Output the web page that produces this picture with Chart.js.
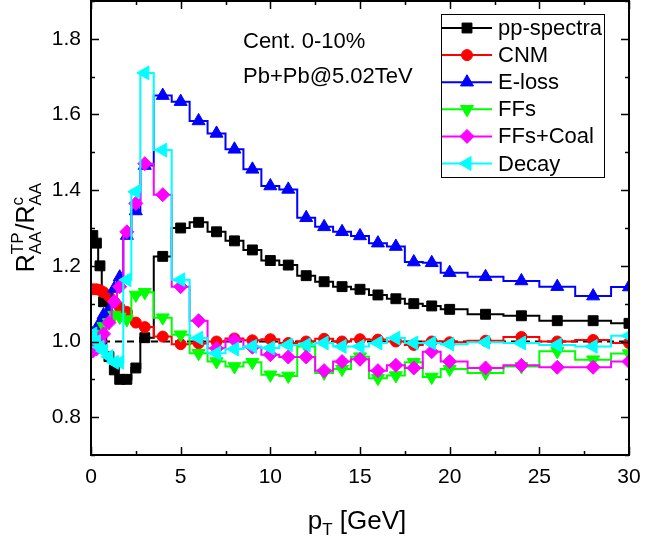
<!DOCTYPE html>
<html><head><meta charset="utf-8">
<script src="https://cdn.jsdelivr.net/npm/chart.js@4.4.1/dist/chart.umd.min.js"></script>
<style>html,body{margin:0;padding:0;background:#fff;} #wrap{width:667px;height:540px;position:relative;}</style>
</head><body><div id="wrap"><canvas id="c" width="667" height="540"></canvas></div>
<script>
// ---- data ----
const pT = [0.1,0.3,0.5,0.7,1.0,1.3,1.6,2.0,2.5,3,4,5,6,7,8,9,10,11,12,13,14,15,16,17,18,19,20,22,24,26,28,30];
const ppSpectra = [1.28,1.26,1.20,1.105,0.96,0.925,0.90,0.90,0.93,1.01,1.225,1.30,1.315,1.29,1.266,1.242,1.214,1.202,1.174,1.158,1.145,1.138,1.123,1.113,1.10,1.094,1.085,1.072,1.068,1.055,1.055,1.048];
const cnm = [1.138,1.138,1.136,1.13,1.12,1.105,1.09,1.078,1.05,1.038,1.013,0.993,0.995,1.0,1.008,1.003,1.006,0.996,1.0,1.007,1.0,1.006,1.005,1.0,0.991,1.0,0.998,1.002,1.012,1.0,1.004,0.996];
const eLoss = [1.02,1.03,1.05,1.07,1.08,1.14,1.17,1.28,1.345,1.465,1.65,1.634,1.583,1.55,1.508,1.455,1.411,1.402,1.327,1.303,1.29,1.279,1.26,1.251,1.21,1.208,1.182,1.171,1.16,1.145,1.12,1.144];
const ffs = [1.0,1.0,1.02,1.04,1.05,1.07,1.065,1.058,1.123,1.13,1.063,1.018,0.969,0.947,0.934,0.945,0.912,0.909,0.987,0.917,0.927,0.96,0.903,0.91,0.945,0.906,0.927,0.917,0.934,0.974,0.952,0.968];
const ffsCoal = [0.975,0.98,1.0,1.02,1.05,1.105,1.145,1.29,1.365,1.47,1.388,1.145,1.055,0.982,1.004,0.985,0.965,0.959,0.959,0.923,0.947,0.953,0.923,0.937,0.93,0.973,0.947,0.93,0.937,0.932,0.932,0.947];
const decay = [1.02,1.0,0.985,0.975,0.96,0.945,0.945,1.163,1.396,1.71,1.506,1.163,1.009,0.969,0.98,0.987,0.983,0.991,0.991,0.996,0.987,0.987,0.996,1.009,0.996,0.996,0.993,0.998,0.996,0.991,0.987,1.015];
const seriesLabels = ['pp-spectra','CNM','E-loss','FFs','FFs+Coal','Decay'];
const xTicks = [0,5,10,15,20,25,30];
const yTicks = [0.8,1.0,1.2,1.4,1.6,1.8];
const refLine = [{x:0,y:1},{x:30,y:1}];

const FONT = 'Liberation Sans, Arial, Helvetica, sans-serif';

function ds(label, vals, color, style, radius, rot, order){
  return {label, data: pT.map((x,i)=>({x, y: vals[i]})), borderColor: color, backgroundColor: color,
    pointBackgroundColor: color, pointBorderColor: color, pointBorderWidth: 1, pointStyle: style,
    pointRadius: radius, pointHoverRadius: radius, pointRotation: rot, borderWidth: 2,
    stepped: 'middle', order};
}
const datasets = [
  ds(seriesLabels[0], ppSpectra, '#000000', 'rect', 7, 0, 5),
  ds(seriesLabels[1], cnm, '#ff0000', 'circle', 5.5, 0, 4),
  ds(seriesLabels[2], eLoss, '#0000ff', 'triangle', 7.5, 0, 3),
  ds(seriesLabels[3], ffs, '#00ff00', 'triangle', 7.5, 180, 2),
  ds(seriesLabels[4], ffsCoal, '#ff00ff', 'rectRot', 7, 0, 1),
  ds(seriesLabels[5], decay, '#00ffff', 'triangle', 8, 270, 0),
  {label:'ref', data: refLine, borderColor:'#000', borderWidth:2, borderDash:[7,5], pointRadius:0, order:10}
];

function drawPt(ctx, style, r, rot, x, y){
  if (Chart.helpers && Chart.helpers.drawPoint){
    Chart.helpers.drawPoint(ctx, {pointStyle: style, radius: r, rotation: rot, borderWidth: 1}, x, y);
  } else {
    ctx.beginPath(); ctx.arc(x,y,r,0,Math.PI*2); ctx.fill(); ctx.stroke();
  }
}

function rich(ctx, parts, cx, baseY){
  const ws = parts.map(p => {
    ctx.font = p.size + 'px ' + FONT;
    if (p.sup !== undefined) return Math.max(ctx.measureText(p.sup).width, ctx.measureText(p.sub).width) + 1;
    return ctx.measureText(p.t).width;
  });
  const total = ws.reduce((a,b)=>a+b,0);
  let x = cx - total/2;
  ctx.textAlign = 'left'; ctx.textBaseline = 'alphabetic';
  parts.forEach((p,i) => {
    ctx.font = p.size + 'px ' + FONT;
    if (p.sup !== undefined){
      ctx.fillText(p.sup, x, baseY - 11);
      ctx.fillText(p.sub, x, baseY + 7);
    } else {
      ctx.fillText(p.t, x, baseY + (p.dy||0));
    }
    x += ws[i];
  });
}

const deco = {
  id: 'deco',
  afterDraw(chart){
    const ctx = chart.ctx, a = chart.chartArea;
    const xs = chart.scales.x, ys = chart.scales.y;
    ctx.save();
    ctx.strokeStyle = '#000'; ctx.fillStyle = '#000';
    ctx.lineWidth = 1.5;
    ctx.beginPath();
    for (let v = 0; v <= 30.001; v += 2.5){
      const px = Math.round(xs.getPixelForValue(v)) + 0.5;
      const L = (Math.abs(v/5 - Math.round(v/5)) < 1e-6) ? 8 : 4;
      ctx.moveTo(px, a.bottom); ctx.lineTo(px, a.bottom - L);
      ctx.moveTo(px, a.top); ctx.lineTo(px, a.top + L);
    }
    for (let k = 7; k <= 19; k++){
      const v = k/10;
      const py = Math.round(ys.getPixelForValue(v)) + 0.5;
      const L = (k % 2 === 0) ? 8 : 4;
      ctx.moveTo(a.left, py); ctx.lineTo(a.left + L, py);
      ctx.moveTo(a.right, py); ctx.lineTo(a.right - L, py);
    }
    ctx.stroke();
    ctx.lineWidth = 2;
    ctx.strokeRect(a.left, a.top, a.right - a.left, a.bottom - a.top);
    ctx.font = '22px ' + FONT; ctx.textAlign = 'left'; ctx.textBaseline = 'alphabetic';
    ctx.fillText('Cent. 0-10%', 243, 48);
    ctx.fillText('Pb+Pb@5.02TeV', 243, 83);
    rich(ctx, [{t:'p', size:26},{t:'T', size:17, dy:6},{t:' [GeV]', size:26}], 357, 529);
    ctx.save();
    ctx.translate(34, 227);
    ctx.rotate(-Math.PI/2);
    rich(ctx, [{t:'R', size:25},{sup:'TP', sub:'AA', size:17},{t:'/', size:25},{t:'R', size:25},{sup:'c', sub:'AA', size:17}], 0, 0);
    ctx.restore();
    const lx = 441, ly = 14, lw = 163, lh = 163;
    ctx.fillStyle = '#fff'; ctx.fillRect(lx, ly, lw, lh);
    ctx.lineWidth = 1; ctx.strokeStyle = '#000';
    ctx.strokeRect(lx + 0.5, ly + 0.5, lw, lh);
    for (let i = 0; i < 6; i++){
      const d = chart.data.datasets[i];
      const y = 28 + i*27.1;
      ctx.strokeStyle = d.borderColor; ctx.fillStyle = d.borderColor; ctx.lineWidth = 2;
      ctx.beginPath(); ctx.moveTo(lx + 1, y); ctx.lineTo(lx + 51, y); ctx.stroke();
      ctx.lineWidth = 1;
      drawPt(ctx, d.pointStyle, d.pointRadius, d.pointRotation, lx + 26, y);
      ctx.fillStyle = '#000'; ctx.font = '22px ' + FONT; ctx.textBaseline = 'middle'; ctx.textAlign = 'left';
      ctx.fillText(d.label, lx + 57, y + 1);
    }
    ctx.restore();
  }
};

new Chart(document.getElementById('c'), {
  type: 'line',
  data: { datasets },
  options: {
    responsive: false, animation: false,
    layout: { autoPadding: false, padding: { left: 0, right: 38, top: 1, bottom: 0 } },
    plugins: { legend: { display: false }, tooltip: { enabled: false } },
    scales: {
      x: { type: 'linear', min: 0, max: 30,
        afterBuildTicks: s => { s.ticks = xTicks.map(v => ({value: v})); },
        ticks: { color: '#000', font: { size: 21, family: FONT }, padding: 10, maxRotation: 0, autoSkip: false },
        grid: { display: false, drawTicks: false }, border: { display: false },
        afterFit: s => { s.height = 85; s.paddingLeft = 0; s.paddingRight = 0; } },
      y: { type: 'linear', min: 0.7, max: 1.9,
        afterBuildTicks: s => { s.ticks = yTicks.map(v => ({value: v})); },
        ticks: { color: '#000', font: { size: 21, family: FONT }, padding: 10, autoSkip: false,
          callback: v => Number(v).toFixed(1) },
        grid: { display: false, drawTicks: false }, border: { display: false },
        afterFit: s => { s.width = 91; s.paddingTop = 0; s.paddingBottom = 0; } }
    }
  },
  plugins: [deco]
});
</script>
</body></html>
